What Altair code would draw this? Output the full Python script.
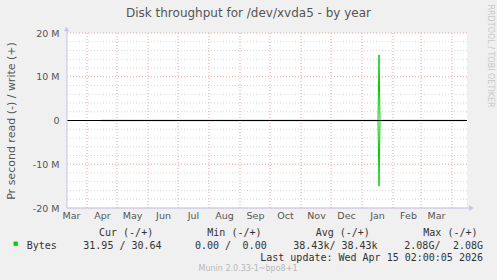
import altair as alt
import pandas as pd

# ---------------- data ----------------
dates = ["2025-04-15", "2025-05-01", "2025-05-18", "2025-06-05", "2025-06-25",
         "2025-07-14", "2025-08-02", "2025-08-22", "2025-09-10", "2025-09-30",
         "2025-10-19", "2025-11-07", "2025-11-27", "2025-12-16", "2026-01-05",
         "2026-01-17", "2026-01-18", "2026-01-19", "2026-02-03", "2026-02-22",
         "2026-03-13", "2026-04-01", "2026-04-14"]
write_bps = [36e3, 41e3, 33e3, 39e3, 35e3, 42e3, 37e3, 34e3, 40e3, 38e3,
             36e3, 41e3, 35e3, 39e3, 37e3, 38e3, 15.0e6, 39e3, 34e3, 36e3,
             33e3, 35e3, 31e3]
read_bps = [37e3, 40e3, 34e3, 38e3, 36e3, 41e3, 38e3, 35e3, 39e3, 37e3,
            35e3, 40e3, 36e3, 38e3, 36e3, 37e3, 15.0e6, 38e3, 35e3, 37e3,
            34e3, 36e3, 32e3]

month_starts = ["2025-04-01", "2025-05-01", "2025-06-01", "2025-07-01", "2025-08-01",
                "2025-09-01", "2025-10-01", "2025-11-01", "2025-12-01", "2026-01-01",
                "2026-02-01", "2026-03-01", "2026-04-01"]
month_label_days = ["2025-03-16", "2025-04-16", "2025-05-16", "2025-06-16", "2025-07-16",
                    "2025-08-16", "2025-09-16", "2025-10-16", "2025-11-16", "2025-12-16",
                    "2026-01-16", "2026-02-16", "2026-03-16"]
x_start = "2025-03-12"
x_end = "2026-04-16"

y_ticks = [-20e6, -10e6, 0, 10e6, 20e6]
y_major = [-20e6, -10e6, 10e6, 20e6]
y_minor = [-18e6, -16e6, -14e6, -12e6, -8e6, -6e6, -4e6, -2e6,
           2e6, 4e6, 6e6, 8e6, 12e6, 14e6, 16e6, 18e6]

title_text = "Disk throughput for /dev/xvda5 - by year"
y_title = "Pr second read (-) / write (+)"
series_name = "Bytes"
legend_headers = ["Cur (-/+)", "Min (-/+)", "Avg (-/+)", "Max (-/+)"]
cur_vals = ["31.95", "30.64"]
min_vals = ["0.00", "0.00"]
avg_vals = ["38.43k", "38.43k"]
max_vals = ["2.08G", "2.08G"]
last_update = "Last update: Wed Apr 15 02:00:05 2026"
munin_ver = "Munin 2.0.33-1~bpo8+1"
rrd_credit = "RRDTOOL / TOBI OETIKER"

# ---------------- helpers ----------------
def dt(s):
    y, m, d = (int(p) for p in s.split("-"))
    return alt.DateTime(year=y, month=m, date=d)

W, H = 400, 175
GREEN = "#00CC00"
AXIS_COL = "#c4c4ec"
TXT = "#555555"
LEG = "#333333"

xscale = alt.Scale(domain=[dt(x_start), dt(x_end)], nice=False)
yscale = alt.Scale(domain=[-20e6, 20e6], nice=False, zero=False)

xaxis = alt.Axis(values=[dt(s) for s in month_label_days], format="%b",
                 title=None, ticks=False, grid=False, domain=False,
                 labelFont="DejaVu Sans", labelFontSize=9.5, labelColor=TXT,
                 labelPadding=2, labelOverlap=False, labelFlush=False)
yaxis = alt.Axis(values=y_ticks, grid=False, ticks=False, domain=False,
                 labelExpr="datum.value == 0 ? '0' : (datum.value < 0 ? '-' : '') + (abs(datum.value) / 1000000) + ' M'",
                 labelFont="DejaVu Sans", labelFontSize=9.5, labelColor=TXT,
                 labelPadding=8,
                 title=y_title, titleFont="DejaVu Sans", titleFontSize=11,
                 titleFontWeight="normal", titleColor=TXT,
                 titleAngle=270, titleX=-56, titleY=H / 2,
                 titleAlign="center", titleBaseline="middle")

series = pd.DataFrame({
    "date": pd.to_datetime(dates * 2),
    "value": write_bps + [-v for v in read_bps],
    "dir": ["write"] * len(dates) + ["read"] * len(dates),
})

# grid
minor_grid = alt.Chart(pd.DataFrame({"value": y_minor})).mark_rule(
    color="#d6d6d6", strokeDash=[1, 2], strokeWidth=1
).encode(y=alt.Y("value:Q", scale=yscale, axis=yaxis))

major_hgrid = alt.Chart(pd.DataFrame({"value": y_major})).mark_rule(
    color="#f0a0a0", strokeDash=[1, 2], strokeWidth=1
).encode(y=alt.Y("value:Q", scale=yscale, axis=yaxis))

vgrid = alt.Chart(pd.DataFrame({"date": pd.to_datetime(month_starts)})).mark_rule(
    color="#f0a0a0", strokeDash=[1, 2], strokeWidth=1
).encode(x=alt.X("date:T", scale=xscale, axis=xaxis))

# data lines
lines = alt.Chart(series).mark_line(color=GREEN, strokeWidth=1, clip=True).encode(
    x=alt.X("date:T", scale=xscale, axis=xaxis),
    y=alt.Y("value:Q", scale=yscale, axis=yaxis),
    detail="dir:N",
)

zero_line = alt.Chart(pd.DataFrame({"value": [0]})).mark_rule(
    color="black", strokeWidth=1
).encode(y=alt.Y("value:Q", scale=yscale, axis=yaxis))

# axis lines + arrows
one = pd.DataFrame({"k": [0]})
y_axis_line = alt.Chart(one).mark_rule(color=AXIS_COL, strokeWidth=1).encode(
    x=alt.value(0), y=alt.value(-4), y2=alt.value(H))
x_axis_line = alt.Chart(one).mark_rule(color=AXIS_COL, strokeWidth=1).encode(
    x=alt.value(0), x2=alt.value(W + 3), y=alt.value(H))
y_arrow = alt.Chart(one).mark_point(shape="triangle-up", filled=True, color=AXIS_COL,
                                    size=28, opacity=1).encode(
    x=alt.value(-0.5), y=alt.value(-4))
x_arrow = alt.Chart(one).mark_point(shape="triangle-right", filled=True, color=AXIS_COL,
                                    size=28, opacity=1).encode(
    x=alt.value(W + 4.5), y=alt.value(H))


def label(txt, x, y, font="DejaVu Sans Mono", size=10, color=LEG, align="left",
          baseline="middle", angle=0):
    kw = dict(font=font, fontSize=size, color=color, align=align, baseline=baseline)
    if angle:
        kw["angle"] = angle
    return alt.Chart(pd.DataFrame({"t": [txt]})).mark_text(**kw).encode(
        text="t:N", x=alt.value(x), y=alt.value(y))


texts = [
    label(title_text, 181.5, -16, font="DejaVu Sans", size=12, color=TXT,
          align="center", baseline="alphabetic"),
    label(rrd_credit, 423, 23, font="DejaVu Sans", size=8, color="#c8c8c8",
          align="center", angle=90),
    label(legend_headers[0], 32, 200),
    label(legend_headers[1], 140.3, 200),
    label(legend_headers[2], 248.7, 200),
    label(legend_headers[3], 356.3, 200),
    label(series_name, -40.3, 212.7),
    label(f"{cur_vals[0]} / {cur_vals[1]}", 16.3, 212.7),
    label(f"{min_vals[0]} /", 128, 212.7),
    label(min_vals[1], 199.7, 212.7, align="right"),
    label(f"{avg_vals[0]}/ {avg_vals[1]}", 226.3, 212.7),
    label(f"{max_vals[0]}/", 337.3, 212.7),
    label(max_vals[1], 416, 212.7, align="right"),
    label(last_update, 416, 224.7, align="right"),
    label(munin_ver, 181, 236.3, font="DejaVu Sans", size=8, color="#b8b8b8",
          align="center"),
]

swatch = alt.Chart(pd.DataFrame({"s": [series_name]})).mark_square(
    color=GREEN, size=18, opacity=1, filled=True
).encode(x=alt.value(-51.3), y=alt.value(210.7))

chart = alt.layer(
    minor_grid, major_hgrid, vgrid, lines, zero_line,
    y_axis_line, x_axis_line, y_arrow, x_arrow, swatch, *texts
).properties(
    width=W, height=H,
    autosize=alt.AutoSizeParams(type="none"),
    padding={"left": 67, "top": 33, "right": 30, "bottom": 72},
    background="#f0f0f0",
).configure_view(fill="white", strokeWidth=0)

chart.save("out.html", embed_options={"renderer": "svg", "actions": False})
